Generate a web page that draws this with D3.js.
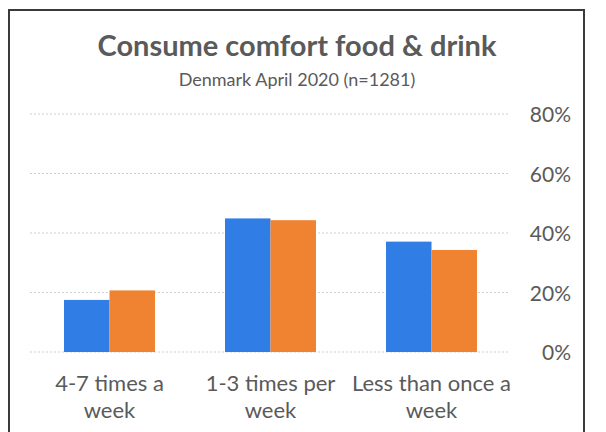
<!DOCTYPE html>
<html>
<head>
<meta charset="utf-8">
<script src="https://cdn.jsdelivr.net/npm/d3@7/dist/d3.min.js"></script>
<style>
  html, body { margin: 0; padding: 0; background: #ffffff; }
  svg { display: block; }
  text { font-family: Lato, "Open Sans", sans-serif; fill: #5a5a5a; }
</style>
</head>
<body>
<svg id="chart" width="606" height="432"></svg>
<script>
// Survey answers: how often people consumed comfort food & drink
const categories = [["4-7 times a", "week"], ["1-3 times per", "week"], ["Less than once a", "week"]];
const seriesNames = ["Series A", "Series B"];
const seriesA = [0.175, 0.449, 0.371];
const seriesB = [0.207, 0.443, 0.343];
const yTicks = [0, 0.2, 0.4, 0.6, 0.8];
const titleText = "Consume comfort food & drink";
const subtitleText = "Denmark April 2020 (n=1281)";

const colors = ["#2f7de5", "#ef8331"];
const seriesValues = [seriesA, seriesB];

const svg = d3.select("#chart");

// outer frame
svg.append("rect")
  .attr("x", 9).attr("y", 10)
  .attr("width", 575).attr("height", 440)
  .attr("fill", "#ffffff")
  .attr("stroke", "#3a3a3a")
  .attr("stroke-width", 2);

const x0 = d3.scaleBand()
  .domain(d3.range(categories.length))
  .range([29, 512])
  .paddingInner(0.435)
  .paddingOuter(0.2175);

const x1 = d3.scaleBand()
  .domain(d3.range(seriesNames.length))
  .range([0, x0.bandwidth()])
  .padding(0);

const y = d3.scaleLinear().domain([0, 0.8]).range([352, 114]);

// dotted gridlines
svg.append("g")
  .selectAll("line")
  .data(yTicks)
  .join("line")
  .attr("x1", 30).attr("x2", 508)
  .attr("y1", d => y(d)).attr("y2", d => y(d))
  .attr("stroke", "#cfcfcf")
  .attr("stroke-width", 1)
  .attr("stroke-dasharray", "2,2");

// right-hand value axis
const yAxis = d3.axisRight(y)
  .tickValues(yTicks)
  .tickFormat(d3.format(".0%"))
  .tickSize(0)
  .tickPadding(0);

const axisG = svg.append("g")
  .attr("transform", "translate(571,0)")
  .call(yAxis);
axisG.select(".domain").remove();
axisG.selectAll("text")
  .attr("text-anchor", "end")
  .attr("dy", "0.36em")
  .style("font-size", "21px")
  .style("font-family", "Lato, sans-serif")
  .attr("fill", "#555555");

// bars
const groups = svg.append("g")
  .selectAll("g")
  .data(categories.map((c, i) => i))
  .join("g")
  .attr("transform", i => `translate(${x0(i)},0)`);

groups.selectAll("rect")
  .data(i => seriesValues.map((vals, s) => ({ s, v: vals[i] })))
  .join("rect")
  .attr("x", d => x1(d.s))
  .attr("width", x1.bandwidth())
  .attr("y", d => y(d.v))
  .attr("height", d => y(0) - y(d.v))
  .attr("fill", d => colors[d.s]);

// category labels (two lines each)
const catG = svg.append("g");
categories.forEach((lines, i) => {
  const cx = x0(i) + x0.bandwidth() / 2;
  const t = catG.append("text")
    .attr("text-anchor", "middle")
    .style("font-size", "22px")
    .attr("fill", "#555555");
  lines.forEach((line, k) => {
    t.append("tspan")
      .attr("x", cx)
      .attr("y", 391 + k * 27)
      .text(line);
  });
});

// titles
svg.append("text")
  .attr("x", 297).attr("y", 56)
  .attr("text-anchor", "middle")
  .style("font-size", "29px")
  .style("font-weight", "bold")
  .attr("fill", "#666666")
  .text(titleText);

svg.append("text")
  .attr("x", 297).attr("y", 86)
  .attr("text-anchor", "middle")
  .style("font-size", "18px")
  .text(subtitleText);
</script>
</body>
</html>
